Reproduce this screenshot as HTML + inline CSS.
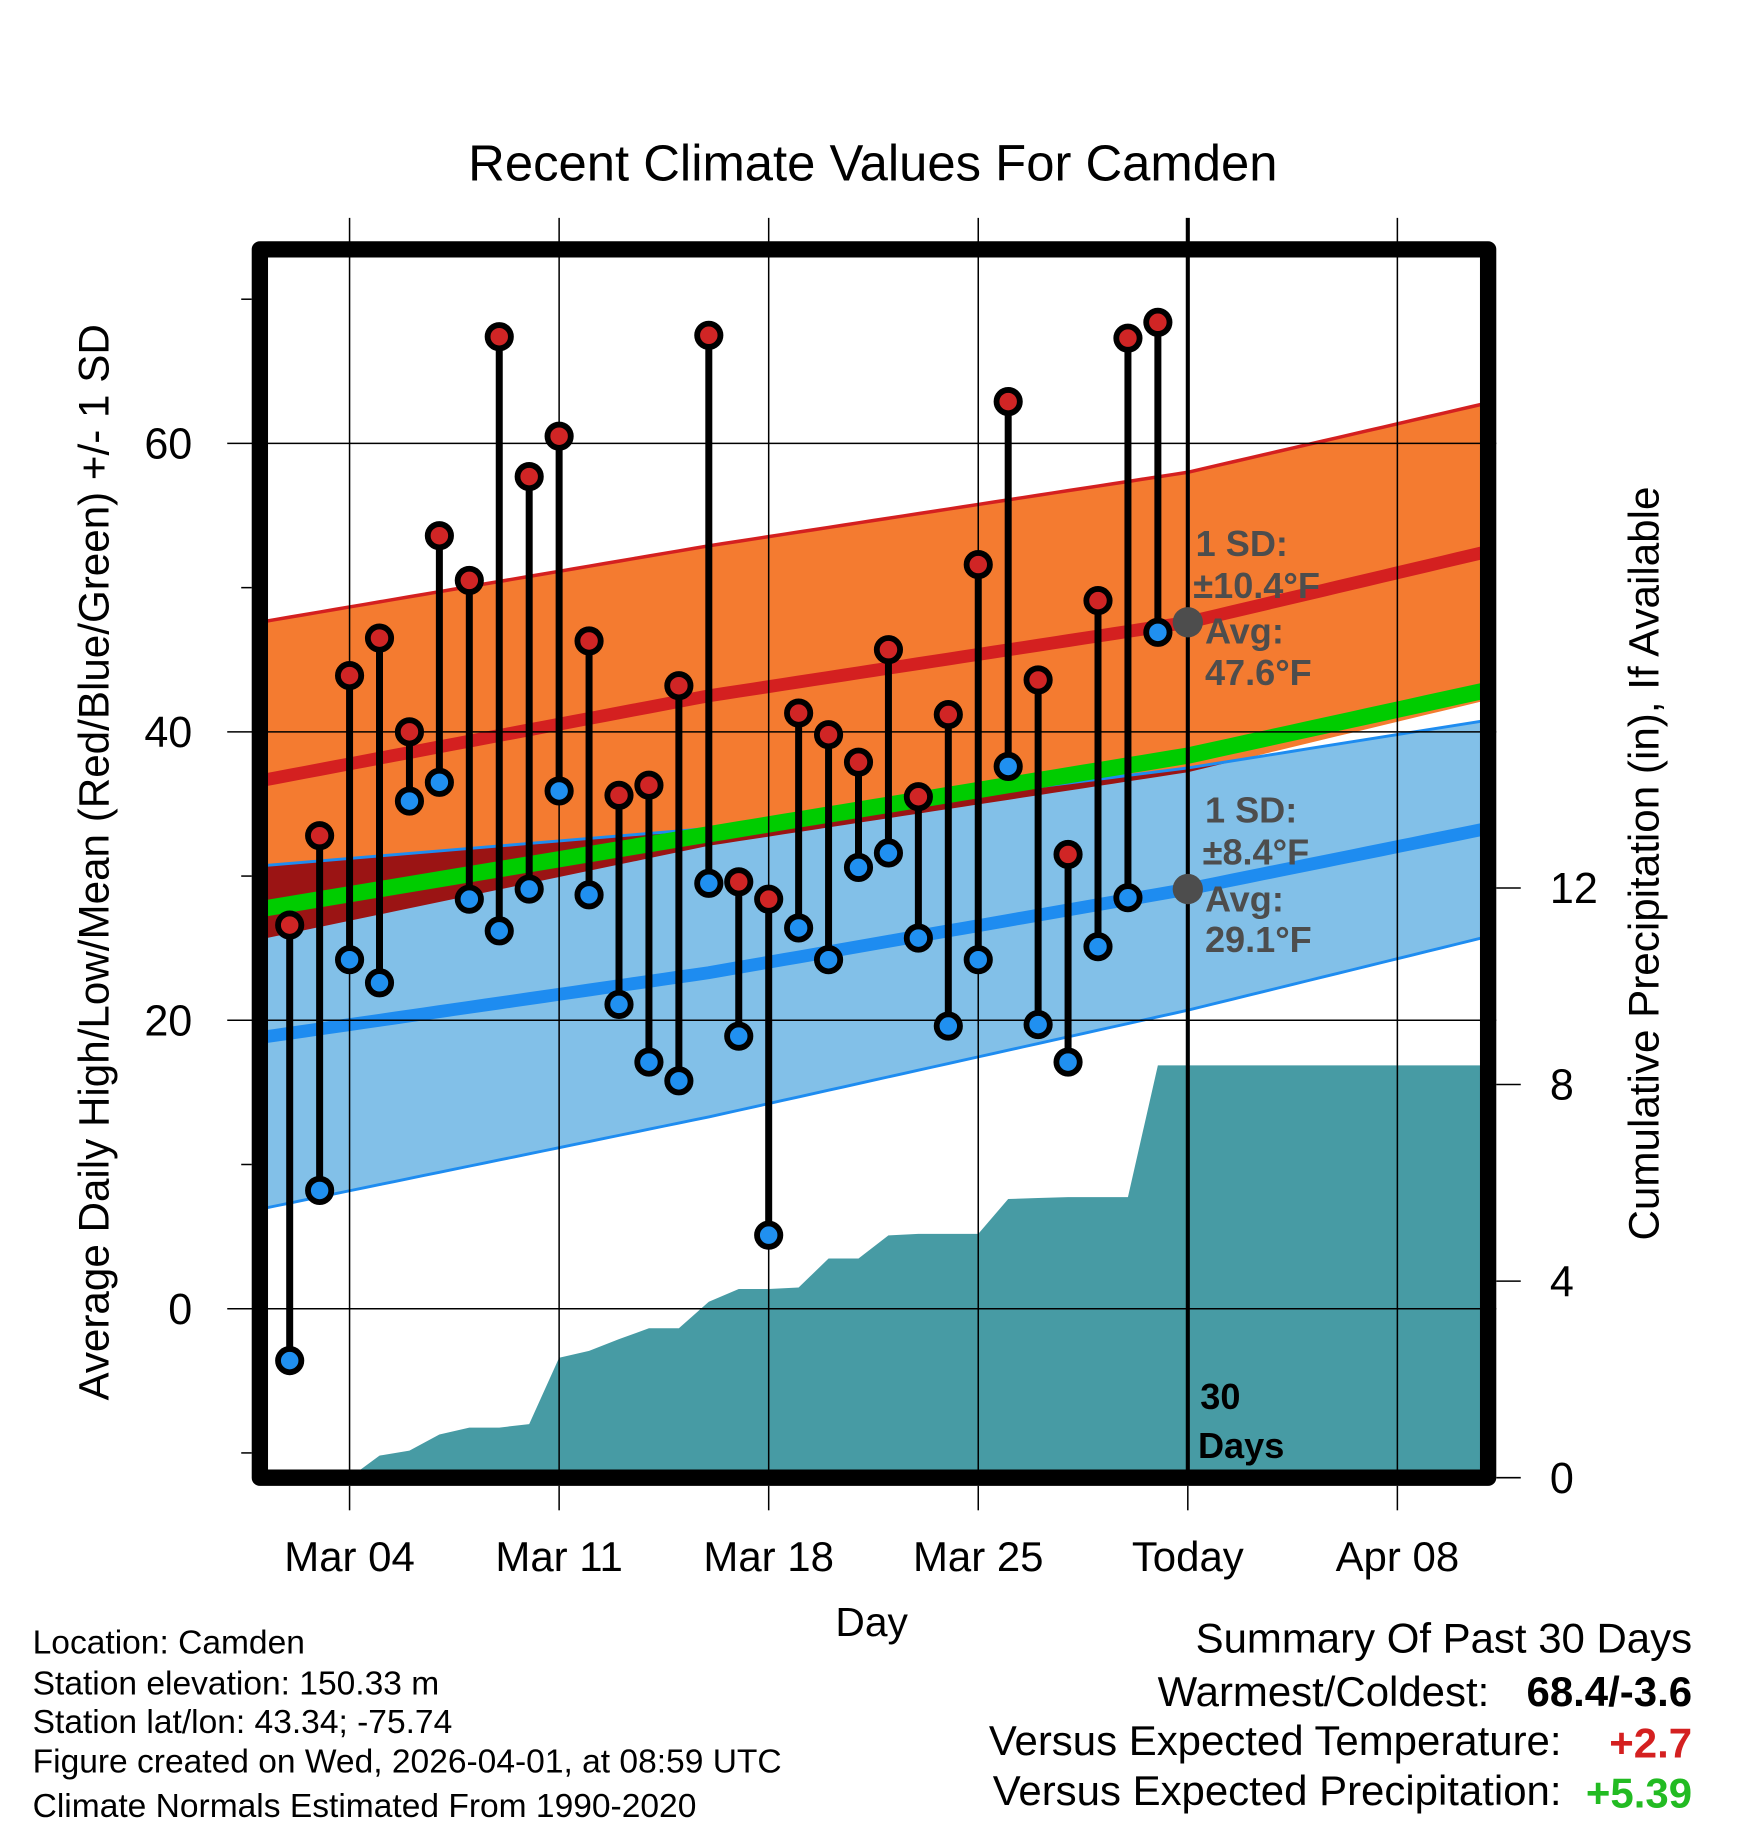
<!DOCTYPE html>
<html><head><meta charset="utf-8"><style>
html,body{margin:0;padding:0;background:#fff;}
svg{display:block;font-family:"Liberation Sans",sans-serif;}
</style></head><body>
<svg id="chart" width="1748" height="1828" viewBox="0 0 1500 1568.6" preserveAspectRatio="none" xmlns="http://www.w3.org/2000/svg">
<defs><clipPath id="plotclip"><rect x="223" y="214" width="1052" height="1053"/></clipPath></defs>
<rect x="0" y="0" width="1500" height="1569" fill="#fff"/>
<g id="plot" clip-path="url(#plotclip)"></g>
<g id="over"></g>
</svg>
<script>
// ---- data ----
const days = [1,2,3,4,5,6,7,8,9,10,11,12,13,14,15,16,17,18,19,20,21,22,23,24,25,26,27,28,29,30];
const highs = [26.6,32.8,43.9,46.5,40.0,53.6,50.5,67.4,57.7,60.5,46.3,35.6,36.3,43.2,67.5,29.6,28.4,41.3,39.8,37.9,45.7,35.5,41.2,51.6,62.9,43.6,31.5,49.1,67.3,68.4];
const lows = [-3.6,8.2,24.2,22.6,35.2,36.5,28.4,26.2,29.1,35.9,28.7,21.1,17.1,15.8,29.5,18.9,5.1,26.4,24.2,30.6,31.6,25.7,19.6,24.2,37.6,19.7,17.1,25.1,28.5,46.9];
const precip = [0,0,0,0.45,0.55,0.88,1.02,1.02,1.09,2.44,2.58,2.82,3.04,3.04,3.58,3.84,3.84,3.87,4.46,4.46,4.93,4.96,4.96,4.96,5.67,5.69,5.71,5.71,5.71,8.39];
const normDays = [0,15,31,41];
const hiMean = [36.6,42.5,47.6,52.5];
const hiSD = [11.0,10.4,10.4,10.3];
const loMean = [18.8,23.3,29.1,33.3];
const loSD = [11.9,10.0,8.4,7.5];
const xTickDays = [3,10,17,24,31,38];
const xTickLabels = ["Mar 04","Mar 11","Mar 18","Mar 25","Today","Apr 08"];
const yTicks = [0,20,40,60];
const yMinor = [-10,10,30,50,70];
const pTicks = [0,4,8,12];
const todayDay = 31;

// ---- axes ----
const X = d => 222.9 + d*25.69;
const Y = v => 1123 - v*12.375;
const P = v => 1268 - v*42.17;
const NS = "http://www.w3.org/2000/svg";
function mk(tag, attrs, parent, text){
  const e = document.createElementNS(NS, tag);
  for (const k in attrs) e.setAttribute(k, attrs[k]);
  if (text !== undefined) e.textContent = text;
  parent.appendChild(e); return e;
}
function interp(arr, d){
  for (let i=0;i<normDays.length-1;i++){
    if (d<=normDays[i+1]){const t=(d-normDays[i])/(normDays[i+1]-normDays[i]);return arr[i]+t*(arr[i+1]-arr[i]);}
  }
  return arr[arr.length-1];
}
const plot = document.getElementById('plot');
const over = document.getElementById('over');
const svg = document.getElementById('chart');
const samp = []; for (let d=0; d<=41.5; d+=0.5) samp.push(d);
function bandPath(meanArr, sdArr){
  const up = samp.map(d=>X(d)+','+Y(interp(meanArr,d)+interp(sdArr,d)));
  const dn = samp.slice().reverse().map(d=>X(d)+','+Y(interp(meanArr,d)-interp(sdArr,d)));
  return 'M'+up.join(' L')+' L'+dn.join(' L')+' Z';
}
function linePath(fn){ return 'M'+samp.map(d=>X(d)+','+Y(fn(d))).join(' L'); }

let e;
e = mk('path',{d:bandPath(hiMean,hiSD),fill:'#f47b30',stroke:'none'},plot);
 
e = mk('path',{d:linePath(d=>interp(hiMean,d)+interp(hiSD,d)),fill:'none',stroke:'#d42020','stroke-width':3},plot);
 
e = mk('path',{d:bandPath(loMean,loSD),fill:'#82c0e8',stroke:'none'},plot);
 
const cp = mk('clipPath',{id:'hiclip'},svg.querySelector('defs'));
mk('path',{d:bandPath(hiMean,hiSD)},cp);
e = mk('path',{d:bandPath(loMean,loSD),fill:'#9b1414','clip-path':'url(#hiclip)'},plot);
 
e = mk('path',{d:linePath(d=>interp(loMean,d)+interp(loSD,d)),fill:'none',stroke:'#1e8cf0','stroke-width':2.5},plot);
 
e = mk('path',{d:linePath(d=>interp(loMean,d)-interp(loSD,d)),fill:'none',stroke:'#1e8cf0','stroke-width':2.5},plot);
 
e = mk('path',{d:linePath(d=>(interp(hiMean,d)+interp(loMean,d))/2),fill:'none',stroke:'#00cc00','stroke-width':14},plot);
 
e = mk('path',{d:linePath(d=>interp(hiMean,d)),fill:'none',stroke:'#d42020','stroke-width':11},plot);
 
e = mk('path',{d:linePath(d=>interp(loMean,d)),fill:'none',stroke:'#1e8cf0','stroke-width':11},plot);
 

let pd = 'M'+X(days[0])+','+P(0);
days.forEach((d,i)=>{ pd += ' L'+X(d)+','+P(precip[i]); });
pd += ' L'+X(42)+','+P(precip[precip.length-1])+' L'+X(42)+','+P(0)+' Z';
e = mk('path',{d:pd,fill:'#479ba4'},plot);
 

yTicks.forEach(v=>{
  e = mk('line',{x1:195,x2:1284,y1:Y(v),y2:Y(v),stroke:'#000','stroke-width':1.3},over);
   
  e = mk('text',{x:165,y:Y(v)+13,'font-size':37,'text-anchor':'end'},over,String(v));
   
});
yMinor.forEach(v=>{
  e = mk('line',{x1:207,x2:216,y1:Y(v),y2:Y(v),stroke:'#000','stroke-width':1.3},over);
   
});
xTickDays.forEach((d,i)=>{
  const isToday = d===todayDay;
  e = mk('line',{x1:X(d),x2:X(d),y1:187,y2:1262,stroke:'#000','stroke-width':isToday?3.5:1.3},over);
   
  e = mk('line',{x1:X(d),x2:X(d),y1:1275,y2:1296,stroke:'#000','stroke-width':1.3},over);
   
  e = mk('text',{x:X(d),y:1348,'font-size':36,'text-anchor':'middle'},over,xTickLabels[i]);
   
});
pTicks.forEach(v=>{
  e = mk('line',{x1:1284,x2:1305,y1:P(v),y2:P(v),stroke:'#000','stroke-width':1.3},over);
   
  e = mk('text',{x:1330,y:P(v)+13,'font-size':37,'text-anchor':'start'},over,String(v));
   
});

days.forEach((d,i)=>{
  e = mk('line',{x1:X(d),x2:X(d),y1:Y(highs[i]),y2:Y(lows[i]),stroke:'#000','stroke-width':6},over);
   
});
days.forEach((d,i)=>{
  e = mk('circle',{cx:X(d),cy:Y(highs[i]),r:10,fill:'#d02525',stroke:'#000','stroke-width':5},over);
   
  e = mk('circle',{cx:X(d),cy:Y(lows[i]),r:10,fill:'#2090f0',stroke:'#000','stroke-width':5},over);
   
});
const tHi = interp(hiMean,todayDay), tLo = interp(loMean,todayDay);
e = mk('circle',{cx:X(todayDay),cy:Y(tHi),r:13,fill:'#4d4d4d'},over);
 
e = mk('circle',{cx:X(todayDay),cy:Y(tLo),r:13,fill:'#4d4d4d'},over);
 
</script>
<script>
const ov = document.getElementById('over');
function T(x,y,size,txt,name,opts){
  const t = document.createElementNS("http://www.w3.org/2000/svg",'text');
  t.setAttribute('x',x); t.setAttribute('y',y); t.setAttribute('font-size',size);
  if(opts){for(const k in opts) t.setAttribute(k,opts[k]);}
  t.textContent = txt;
  
  
  ov.appendChild(t); return t;
}
const g = {'font-weight':'bold',fill:'#4d4d4d'};
T(1026,477,31,'1 SD:','high-sd-label',g);
T(1024,513,31,'±10.4°F','high-sd-value',g);
T(1034,552,31,'Avg:','high-avg-label',g);
T(1034,588,31,'47.6°F','high-avg-value',g);
T(1034,706,31,'1 SD:','low-sd-label',g);
T(1032,742,31,'±8.4°F','low-sd-value',g);
T(1034,782,31,'Avg:','low-avg-label',g);
T(1034,817,31,'29.1°F','low-avg-value',g);
T(1030,1209,31,'30','days-count-label',{'font-weight':'bold'});
T(1028,1251,31,'Days','days-label',{'font-weight':'bold'});
T(749,155,43.6,'Recent Climate Values For Camden','chart-title',{'text-anchor':'middle'});
T(748,1404,35,'Day','x-axis-title',{'text-anchor':'middle'});
T(0,0,36.2,'Average Daily High/Low/Mean (Red/Blue/Green) +/- 1 SD','y-axis-title',{'text-anchor':'middle',transform:'translate(93,740) rotate(-90)'});
T(0,0,36.2,'Cumulative Precipitation (in), If Available','y2-axis-title',{'text-anchor':'middle',transform:'translate(1423,741) rotate(-90)'});
T(28,1419,28.8,'Location: Camden','location-text');
T(28,1454,28.8,'Station elevation: 150.33 m','elevation-text');
T(28,1487,28.8,'Station lat/lon: 43.34; -75.74','latlon-text');
T(28,1521,28.8,'Figure created on Wed, 2026-04-01, at 08:59 UTC','created-text');
T(28,1559,28.8,'Climate Normals Estimated From 1990-2020','normals-text');
T(1452,1418,36,'Summary Of Past 30 Days','summary-title',{'text-anchor':'end'});
T(1278,1464,36,'Warmest/Coldest:','warmest-label',{'text-anchor':'end'});
T(1452,1464,36,'68.4/-3.6','warmest-value',{'text-anchor':'end','font-weight':'bold'});
T(1340,1506,36,'Versus Expected Temperature:','temp-anomaly-label',{'text-anchor':'end'});
T(1452,1508,36,'+2.7','temp-anomaly-value',{'text-anchor':'end','font-weight':'bold',fill:'#d42020'});
T(1340,1549,36,'Versus Expected Precipitation:','precip-anomaly-label',{'text-anchor':'end'});
T(1452,1551,36,'+5.39','precip-anomaly-value',{'text-anchor':'end','font-weight':'bold',fill:'#22bb22'});
const fr = document.createElementNS("http://www.w3.org/2000/svg",'rect');
fr.setAttribute('x',223); fr.setAttribute('y',214); fr.setAttribute('width',1054); fr.setAttribute('height',1054);
fr.setAttribute('fill','none'); fr.setAttribute('stroke','#000'); fr.setAttribute('stroke-width',14);
fr.setAttribute('stroke-linejoin','round');


ov.appendChild(fr);
</script>
</body></html>
